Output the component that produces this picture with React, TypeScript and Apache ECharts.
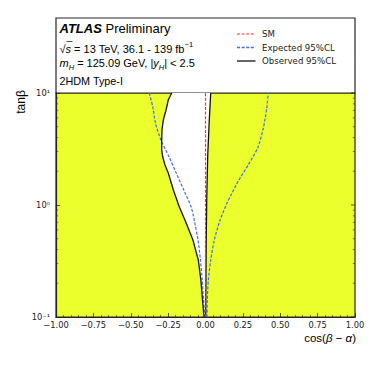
import React, { useEffect, useRef } from "react";
import * as echarts from "echarts";

// ---- data ----
const xTicksInterval = 0.25;
const yMajorTicks = [0.1, 1, 10];
const yMinorTicks = [0.2, 0.3, 0.4, 0.5, 0.6, 0.7, 0.8, 0.9, 2, 3, 4, 5, 6, 7, 8, 9];

const obsLeftTanB = [10, 8.66, 7.05, 5.74, 4.68, 3.8, 3.1, 2.68, 2.28, 1.93, 1.36, 0.96, 0.73, 0.487, 0.396, 0.323, 0.214, 0.142, 0.1];
const obsLeftCos = [-0.226, -0.249, -0.264, -0.282, -0.291, -0.293, -0.293, -0.286, -0.271, -0.249, -0.215, -0.175, -0.137, -0.084, -0.066, -0.048, -0.031, -0.02, -0.01];

const obsRightTanB = [0.1, 0.5, 1.09, 2.79, 5.62, 10];
const obsRightCos = [0.001, 0.005, 0.008, 0.015, 0.025, 0.035];

const expLeftTanB = [10, 7.55, 5.4, 3.8, 2.68, 1.93, 1.36, 0.96, 0.73, 0.487, 0.323, 0.214, 0.142, 0.1];
const expLeftCos = [-0.376, -0.353, -0.335, -0.298, -0.243, -0.196, -0.145, -0.096, -0.075, -0.05, -0.034, -0.022, -0.013, -0.005];

const expRightTanB = [0.1, 0.142, 0.214, 0.323, 0.487, 0.73, 1.04, 1.23, 1.64, 2.28, 3.23, 4.87, 7.35, 10];
const expRightCos = [0.01, 0.012, 0.019, 0.035, 0.059, 0.097, 0.144, 0.171, 0.22, 0.286, 0.349, 0.387, 0.41, 0.42];

const smTanB = [0.1, 10];
const smCos = [0, 0];

const legendNames = ["SM", "Expected 95%CL", "Observed 95%CL"];

// ---- styles ----
const YELLOW = "#eaff2b";
const AXIS = "#262626";
const BLUE = "#3d6cf2";
const RED = "#ff2a2a";
const BLACK = "#111";
const SANS = "Liberation Sans";
const DJ = "DejaVu Sans";

const pairs = (xs: number[], ys: number[]) => ys.map((y, i) => [xs[i], y]);

const SUP: Record<string, string> = { "-": "⁻", "0": "⁰", "1": "¹", "2": "²", "3": "³", "4": "⁴", "5": "⁵", "6": "⁶", "7": "⁷", "8": "⁸", "9": "⁹" };

const legendStyles = [
  { stroke: RED, lineWidth: 1.2, lineDash: [3, 1.6] },
  { stroke: BLUE, lineWidth: 1.4, lineDash: [3, 1.6] },
  { stroke: BLACK, lineWidth: 1.3 },
];

export default function App() {
  const ref = useRef<HTMLDivElement>(null);
  useEffect(() => {
    document.body.style.margin = "0";
    const chart = echarts.init(ref.current!, null, { renderer: "svg" });
    const obsLeft = pairs(obsLeftCos, obsLeftTanB);
    const obsRight = pairs(obsRightCos, obsRightTanB);
    const legendGraphics: any[] = [];
    legendNames.forEach((name, i) => {
      const y = 34 + i * 13.5;
      legendGraphics.push({
        type: "line",
        shape: { x1: 237, y1: y, x2: 255.5, y2: y },
        style: { ...legendStyles[i], fill: null },
      });
      legendGraphics.push({
        type: "text",
        x: 262,
        y,
        style: { text: name, fontFamily: DJ, fontSize: 8.6, fill: "#222", verticalAlign: "middle" },
      });
    });
    const tickSeries = (ticks: number[], len: number, width: number) => ({
      type: "custom",
      silent: true,
      z: 6,
      data: ticks.map((t) => [0, t]),
      renderItem: (_params: any, api: any) => {
        const t = api.value(1);
        const pr = api.coord([1, t]);
        const pl = api.coord([-1, t]);
        const children: any[] = [
          { type: "line", shape: { x1: pr[0], y1: pr[1], x2: pr[0] - len, y2: pr[1] }, style: { stroke: AXIS, lineWidth: width } },
        ];
        if (len < 3) {
          children.push({ type: "line", shape: { x1: pl[0], y1: pl[1], x2: pl[0] + len, y2: pl[1] }, style: { stroke: AXIS, lineWidth: width } });
        }
        return { type: "group", children };
      },
    });
    chart.setOption({
      animation: false,
      textStyle: { fontFamily: DJ },
      grid: {
        left: 56,
        right: 19,
        top: 93,
        bottom: 57,
        show: true,
        backgroundColor: YELLOW,
        borderWidth: 1.2,
        borderColor: AXIS,
      },
      xAxis: {
        type: "value",
        min: -1,
        max: 1,
        interval: xTicksInterval,
        splitLine: { show: false },
        axisLine: { show: true, onZero: false, lineStyle: { color: AXIS, width: 1.2 } },
        axisTick: { show: true, inside: true, length: 4, lineStyle: { color: AXIS, width: 0.8 } },
        minorTick: { show: true, splitNumber: 5, length: 2, lineStyle: { color: AXIS, width: 0.6 } },
        axisLabel: {
          fontSize: 8.3,
          color: "#222",
          margin: 3.5,
          fontFamily: DJ,
          formatter: (v: number) => v.toFixed(2).replace("-", "\u2212"),
        },
      },
      yAxis: {
        type: "log",
        logBase: 10,
        min: 0.1,
        max: 10,
        position: "left",
        splitLine: { show: false },
        axisLine: { show: true, onZero: false, lineStyle: { color: AXIS, width: 1.2 } },
        axisTick: { show: true, inside: true, length: 4, lineStyle: { color: AXIS, width: 0.8 } },
        axisLabel: {
          fontSize: 8.3,
          color: "#222",
          margin: 6,
          fontFamily: DJ,
          formatter: (v: number) => {
            const e = Math.round(Math.log10(v));
            return "10" + String(e).split("").map((c) => SUP[c]).join("");
          },
        },
      },
      graphic: [
        {
          type: "rect",
          shape: { x: 56, y: 18, width: 299, height: 75 },
          style: { fill: "#fff", stroke: AXIS, lineWidth: 1.2 },
        },
        {
          type: "text",
          x: 59.5,
          y: 28,
          style: {
            text: "{b|ATLAS}{n| Preliminary}",
            verticalAlign: "middle",
            rich: {
              b: { fontFamily: SANS, fontSize: 13, fontWeight: "bold", fontStyle: "italic", fill: "#000" },
              n: { fontFamily: SANS, fontSize: 13, fill: "#000" },
            },
          },
        },
        {
          type: "text",
          x: 59.5,
          y: 47,
          style: {
            text: "{n|√}{i|s}{n| = 13 TeV, 36.1 - 139 fb}{s|−1}",
            verticalAlign: "middle",
            rich: {
              n: { fontFamily: SANS, fontSize: 11, fill: "#000", verticalAlign: "bottom", lineHeight: 14 },
              i: { fontFamily: SANS, fontSize: 11, fontStyle: "italic", fill: "#000", verticalAlign: "bottom", lineHeight: 14 },
              s: { fontFamily: SANS, fontSize: 7.5, fill: "#000", verticalAlign: "top", lineHeight: 9 },
            },
          },
        },
        {
          type: "line",
          shape: { x1: 66.5, y1: 41.5, x2: 72.5, y2: 41.5 },
          style: { stroke: "#000", lineWidth: 0.7 },
        },
        {
          type: "text",
          x: 59.5,
          y: 64,
          style: {
            text: "{i|m}{sub|H}{n| = 125.09 GeV, |}{i|y}{sub|H}{n|| < 2.5}",
            verticalAlign: "middle",
            rich: {
              n: { fontFamily: SANS, fontSize: 11, fill: "#000", verticalAlign: "top", lineHeight: 14 },
              i: { fontFamily: SANS, fontSize: 11, fontStyle: "italic", fill: "#000", verticalAlign: "top", lineHeight: 14 },
              sub: { fontFamily: SANS, fontSize: 7.5, fontStyle: "italic", fill: "#000", verticalAlign: "bottom", lineHeight: 9 },
            },
          },
        },
        {
          type: "text",
          x: 59.5,
          y: 81,
          style: { text: "2HDM Type-I", fontFamily: SANS, fontSize: 10.8, fill: "#000", verticalAlign: "middle" },
        },
        ...legendGraphics,
        {
          type: "text",
          x: 21,
          y: 102,
          rotation: Math.PI / 2,
          style: { text: "tanβ", fontFamily: SANS, fontSize: 12, fill: "#000", align: "center", verticalAlign: "middle" },
        },
        {
          type: "text",
          x: 356,
          y: 338,
          style: {
            text: "{n|cos(}{i|β}{n| − }{i|α}{n|)}",
            align: "right",
            verticalAlign: "middle",
            rich: {
              n: { fontFamily: SANS, fontSize: 11.5, fill: "#000" },
              i: { fontFamily: SANS, fontSize: 11.5, fontStyle: "italic", fill: "#000" },
            },
          },
        },
      ],
      series: [
        {
          type: "custom",
          name: "allowed",
          silent: true,
          z: 1,
          data: [[0, 1]],
          renderItem: (_params: any, api: any) => {
            const pts = [
              ...obsLeft.map((p) => api.coord(p)),
              ...obsRight.map((p) => api.coord(p)),
            ];
            return { type: "polygon", shape: { points: pts }, style: { fill: "#ffffff", stroke: null, lineWidth: 0 } };
          },
        },
        tickSeries(yMajorTicks, 4, 0.8),
        tickSeries(yMinorTicks, 2.2, 0.6),
        {
          type: "line",
          name: "Expected 95%CL",
          data: pairs(expLeftCos, expLeftTanB),
          symbol: "none",
          smooth: 0.25,
          z: 3,
          lineStyle: { color: BLUE, width: 1.2, type: [3, 1.6] },
        },
        {
          type: "line",
          name: "Expected 95%CL",
          data: pairs(expRightCos, expRightTanB),
          symbol: "none",
          smooth: 0.25,
          z: 3,
          lineStyle: { color: BLUE, width: 1.2, type: [3, 1.6] },
        },
        {
          type: "line",
          name: "Observed 95%CL",
          data: obsLeft,
          symbol: "none",
          z: 4,
          lineStyle: { color: BLACK, width: 1.3 },
        },
        {
          type: "line",
          name: "Observed 95%CL",
          data: obsRight,
          symbol: "none",
          z: 4,
          lineStyle: { color: BLACK, width: 1.3 },
        },
        {
          type: "line",
          name: "SM",
          data: pairs(smCos, smTanB),
          symbol: "none",
          z: 5,
          itemStyle: { color: RED },
          lineStyle: { color: RED, width: 1.2, type: [3, 1.6], opacity: 1 },
        },
      ],
    });
    return () => chart.dispose();
  }, []);
  return <div ref={ref} style={{ width: 374, height: 374 }} />;
}
